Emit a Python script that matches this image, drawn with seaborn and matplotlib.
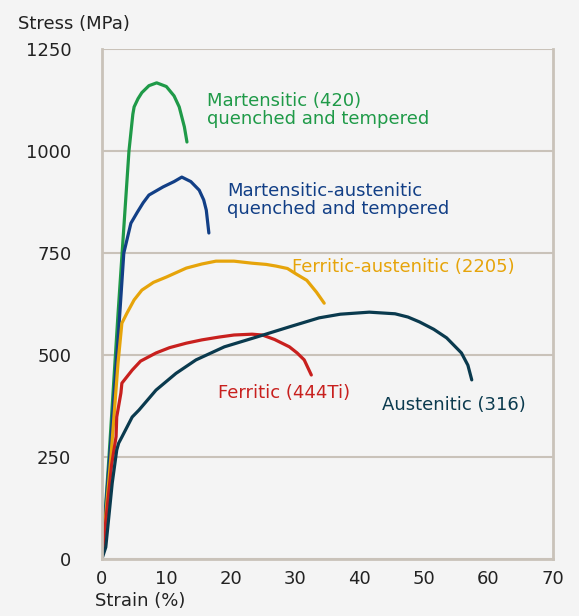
import pandas as pd
import seaborn as sns
import matplotlib.pyplot as plt

# stress-strain curves (strain %, stress MPa)
mart_strain = [0, 1.1, 2.5, 4.2, 4.8, 5.0, 5.6, 6.2, 7.3, 8.5, 10.0, 11.2, 12.0, 12.8, 13.2]
mart_stress = [0, 250, 600, 1000, 1090, 1108, 1128, 1143, 1160, 1167, 1158, 1135, 1108, 1059, 1022]

ma_strain = [0, 1.2, 2.6, 3.4, 4.5, 5.5, 6.4, 7.3, 9.5, 11.2, 12.4, 13.8, 15.1, 15.8, 16.2, 16.6]
ma_stress = [0, 250, 560, 750, 823, 850, 873, 892, 912, 925, 936, 925, 904, 880, 855, 799]

fa_strain = [0, 1.4, 2.5, 3.1, 3.9, 5.0, 6.2, 8.0, 10.0, 13.1, 15.5, 17.7, 20.5, 23.3, 25.5, 27.0, 28.8, 30.2, 31.8, 33.3, 34.5]
fa_stress = [0, 250, 480, 578, 603, 635, 659, 678, 691, 713, 723, 730, 730, 725, 722, 718, 712, 698, 683, 654, 627]

fer_strain = [0, 1.5, 2.2, 2.3, 2.95, 3.1, 4.7, 6.0, 8.4, 10.5, 13.1, 15.5, 18.2, 20.5, 23.3, 24.9, 26.8, 29.1, 30.3, 31.4, 32.5]
fer_stress = [0, 230, 300, 348, 407, 431, 463, 485, 505, 518, 529, 537, 544, 549, 551, 549, 538, 520, 505, 488, 451]

aus_strain = [0, 0.6, 1.6, 2.3, 2.6, 3.1, 4.7, 5.75, 8.4, 11.5, 14.6, 19.0, 24.0, 29.1, 33.7, 37.0, 41.5, 45.5, 47.5, 49.3, 51.5, 53.5, 55.8, 56.8, 57.4]
aus_stress = [0, 29, 186, 267, 284, 299, 348, 365, 414, 455, 488, 520, 544, 569, 591, 600, 605, 601, 593, 581, 563, 542, 505, 475, 439]

x_ticks = [0, 10, 20, 30, 40, 50, 60, 70]
y_ticks = [0, 250, 500, 750, 1000, 1250]

colors = {
    "mart": "#1f9a48",
    "ma": "#123f86",
    "fa": "#e6a40a",
    "fer": "#c8201e",
    "aus": "#0a3a4e",
}

frames = []
for key, xs, ys in [("mart", mart_strain, mart_stress), ("ma", ma_strain, ma_stress),
                    ("fa", fa_strain, fa_stress), ("fer", fer_strain, fer_stress),
                    ("aus", aus_strain, aus_stress)]:
    frames.append(pd.DataFrame({"strain": xs, "stress": ys, "steel": key}))
df = pd.concat(frames, ignore_index=True)

bg = "#f4f4f4"
grid_c = "#c9c2b9"
sns.set_style("white", {"axes.facecolor": bg, "figure.facecolor": bg})
plt.rcParams["font.family"] = ["DejaVu Sans"]

fig = plt.figure(figsize=(5.79, 6.16), dpi=100)
ax = fig.add_axes([0.176, 0.0925, 0.779, 0.828])

sns.lineplot(data=df, x="strain", y="stress", hue="steel", palette=colors,
             sort=False, estimator=None, linewidth=2.3, legend=False, ax=ax)

fs = 13
ax.set_xlim(0, 70)
ax.set_ylim(0, 1250)
ax.set_xticks(x_ticks)
ax.set_yticks(y_ticks)
ax.yaxis.grid(True, color=grid_c, linewidth=1.5)
ax.set_axisbelow(True)
for side in ["left", "bottom", "right"]:
    ax.spines[side].set_color(grid_c)
    ax.spines[side].set_linewidth(2)
ax.spines["top"].set_visible(False)
ax.tick_params(axis="y", length=0, pad=22, labelsize=fs, labelcolor="#222222")
ax.tick_params(axis="x", length=5, width=1.5, color=grid_c, pad=3,
               labelsize=fs, labelcolor="#222222")
ax.set_xlabel("")
ax.set_ylabel("")

fig.text(18 / 579, 1 - 24 / 616, "Stress (MPa)", fontsize=fs, color="#222222",
         va="center", ha="left")
fig.text(95 / 579, 1 - 601 / 616, "Strain (%)", fontsize=fs, color="#222222",
         va="center", ha="left")

ax.text(16.3, 1100, "Martensitic (420)\nquenched and tempered", color=colors["mart"],
        fontsize=fs, va="center", ha="left", linespacing=1.0)
ax.text(19.4, 879, "Martensitic-austenitic\nquenched and tempered", color=colors["ma"],
        fontsize=fs, va="center", ha="left", linespacing=1.0)
ax.text(29.5, 716, "Ferritic-austenitic (2205)", color=colors["fa"],
        fontsize=fs, va="center", ha="left")
ax.text(18.0, 407, "Ferritic (444Ti)", color=colors["fer"],
        fontsize=fs, va="center", ha="left")
ax.text(43.5, 377, "Austenitic (316)", color=colors["aus"],
        fontsize=fs, va="center", ha="left")

fig.savefig("out.png", dpi=100, facecolor=bg)
